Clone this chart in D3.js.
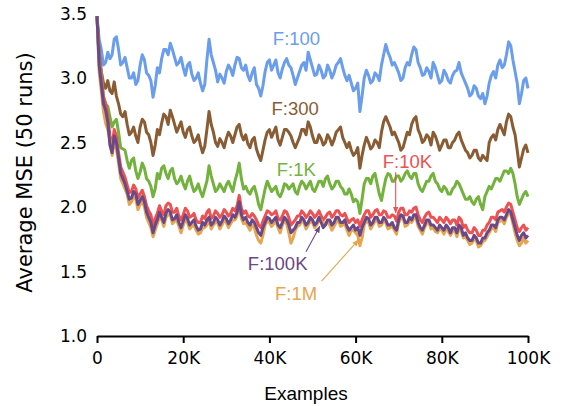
<!DOCTYPE html>
<html><head><meta charset="utf-8">
<script src="https://cdn.jsdelivr.net/npm/d3@7"></script>
<style>body{margin:0;background:#fff;} svg{display:block;}</style>
</head><body>
<svg id="c" width="563" height="406"></svg>
<script>
// Values read every 1K examples, plus the in-between (half-step) readings
const xTicks = [0, 20000, 40000, 60000, 80000, 100000];
const xTickLabels = ["0", "20K", "40K", "60K", "80K", "100K"];
const yTicks = [1.0, 1.5, 2.0, 2.5, 3.0, 3.5];

const f100 = [3.48,3.22,3.12,3.15,3.30,3.22,3.12,3.08,3.00,2.95,
  3.10,3.14,3.02,2.85,3.08,3.15,3.22,3.27,3.16,3.12,
  3.08,3.10,3.03,3.00,2.96,2.95,3.30,3.12,2.97,3.00,
  3.05,3.07,3.10,3.15,3.06,3.02,3.04,2.95,2.86,3.05,
  3.14,3.10,3.04,3.07,3.15,3.08,2.95,3.05,3.12,3.20,
  3.08,3.03,3.06,3.02,3.06,3.04,3.12,3.08,2.98,2.96,
  2.92,2.74,3.00,3.02,2.98,3.02,3.10,3.26,3.16,3.12,
  3.04,3.00,3.12,3.18,3.22,3.08,3.03,3.05,3.12,3.02,
  2.98,3.03,2.96,3.05,3.12,3.00,2.92,2.88,2.92,2.84,
  2.80,2.96,3.05,3.10,3.08,3.18,3.25,3.05,2.80,2.98,
  2.92];
const f100Mid = [3.30,3.10,3.20,3.18,3.32,3.10,3.16,3.00,3.04,2.98,
  3.18,3.04,2.98,2.94,3.04,3.22,3.18,3.22,3.10,3.16,
  3.02,3.12,2.98,3.04,2.90,3.14,3.18,3.06,3.03,2.96,
  3.10,3.02,3.16,3.08,3.10,2.98,3.08,2.92,2.94,3.12,
  3.06,3.14,3.00,3.12,3.10,3.02,3.00,3.10,3.06,3.14,
  3.02,3.10,3.00,3.10,3.00,3.10,3.15,3.02,3.02,2.90,
  2.96,2.86,3.06,2.96,3.04,2.98,3.18,3.20,3.10,3.08,
  2.98,3.08,3.10,3.24,3.12,3.02,3.08,3.00,3.08,2.96,
  3.06,2.98,3.02,3.06,3.04,2.96,2.86,2.94,2.86,2.88,
  2.86,3.02,3.00,3.14,3.10,3.28,3.14,2.96,2.88,3.00];

const f300 = [3.48,3.05,2.92,2.90,2.97,2.80,2.70,2.64,2.58,2.55,
  2.62,2.66,2.56,2.40,2.60,2.65,2.70,2.75,2.64,2.62,
  2.58,2.60,2.55,2.52,2.48,2.47,2.74,2.58,2.47,2.50,
  2.53,2.55,2.56,2.64,2.52,2.49,2.52,2.45,2.36,2.52,
  2.60,2.58,2.52,2.54,2.60,2.55,2.46,2.54,2.60,2.66,
  2.55,2.50,2.53,2.50,2.53,2.52,2.60,2.54,2.46,2.44,
  2.42,2.30,2.48,2.50,2.47,2.50,2.58,2.70,2.62,2.58,
  2.50,2.46,2.58,2.64,2.70,2.56,2.52,2.54,2.58,2.50,
  2.48,2.52,2.46,2.52,2.58,2.48,2.42,2.40,2.44,2.36,
  2.38,2.50,2.56,2.60,2.60,2.66,2.70,2.56,2.31,2.45,
  2.42];
const f300Mid = [3.20,2.96,2.98,2.88,2.86,2.72,2.74,2.56,2.62,2.50,
  2.68,2.58,2.50,2.48,2.56,2.72,2.64,2.70,2.58,2.66,
  2.54,2.62,2.50,2.56,2.42,2.60,2.64,2.50,2.53,2.46,
  2.58,2.50,2.62,2.56,2.56,2.46,2.54,2.40,2.44,2.58,
  2.54,2.62,2.48,2.60,2.58,2.50,2.50,2.60,2.56,2.62,
  2.50,2.56,2.48,2.56,2.48,2.58,2.62,2.50,2.50,2.40,
  2.46,2.40,2.54,2.45,2.52,2.46,2.66,2.66,2.56,2.54,
  2.44,2.52,2.56,2.68,2.60,2.50,2.56,2.48,2.55,2.44,
  2.52,2.46,2.50,2.56,2.52,2.44,2.38,2.44,2.38,2.40,
  2.36,2.54,2.52,2.64,2.56,2.72,2.62,2.44,2.38,2.48];

const f1k = [3.48,3.05,2.80,2.70,2.66,2.58,2.45,2.36,2.36,2.28,
  2.27,2.30,2.20,2.08,2.26,2.30,2.26,2.28,2.22,2.20,
  2.18,2.20,2.17,2.14,2.12,2.14,2.32,2.18,2.14,2.15,
  2.17,2.16,2.20,2.34,2.14,2.12,2.14,2.10,1.98,2.14,
  2.16,2.14,2.10,2.12,2.17,2.16,2.12,2.16,2.18,2.17,
  2.14,2.16,2.20,2.22,2.18,2.16,2.20,2.14,2.10,2.10,
  2.06,1.95,2.18,2.22,2.24,2.18,2.05,2.22,2.25,2.20,
  2.24,2.22,2.28,2.22,2.26,2.14,2.16,2.20,2.26,2.18,
  2.12,2.14,2.10,2.16,2.18,2.10,2.06,2.04,2.06,2.02,
  2.08,2.16,2.18,2.22,2.24,2.28,2.30,2.18,2.02,2.10,
  2.08];
const f1kMid = [3.15,2.86,2.78,2.62,2.68,2.46,2.44,2.30,2.38,2.22,
  2.34,2.22,2.16,2.14,2.22,2.32,2.22,2.30,2.18,2.24,
  2.14,2.24,2.12,2.18,2.08,2.20,2.24,2.12,2.18,2.12,
  2.20,2.12,2.26,2.22,2.16,2.10,2.16,2.02,2.06,2.20,
  2.12,2.16,2.08,2.18,2.14,2.18,2.10,2.20,2.14,2.20,
  2.12,2.20,2.16,2.24,2.14,2.20,2.16,2.10,2.14,2.04,
  2.04,2.06,2.22,2.18,2.26,2.10,2.14,2.26,2.20,2.24,
  2.20,2.26,2.24,2.26,2.18,2.12,2.20,2.24,2.20,2.14,
  2.16,2.10,2.14,2.20,2.14,2.06,2.08,2.02,2.08,1.98,
  2.12,2.14,2.22,2.20,2.28,2.26,2.26,2.08,2.06,2.12];

const f10k = [3.48,3.00,2.80,2.55,2.60,2.42,2.27,2.17,2.12,2.14,
  2.10,2.08,1.97,1.86,1.95,1.97,2.01,2.02,1.96,1.93,
  1.94,1.97,1.93,1.90,1.88,1.91,1.98,1.93,1.95,1.94,
  1.96,1.95,1.97,2.09,1.95,1.93,1.95,1.90,1.84,1.93,
  1.96,1.95,1.91,1.93,1.96,1.86,1.90,1.93,1.95,1.94,
  1.95,1.94,1.93,1.92,1.96,1.94,1.97,1.93,1.91,1.90,
  1.88,1.85,1.94,1.97,1.94,1.98,1.94,1.96,1.92,1.93,
  1.96,1.99,1.94,1.96,2.00,1.90,1.92,1.96,1.92,1.88,
  1.90,1.92,1.87,1.90,1.92,1.84,1.82,1.80,1.82,1.78,
  1.82,1.88,1.92,1.96,1.98,2.00,2.02,1.90,1.81,1.86,
  1.84];
const f10kMid = [3.15,2.85,2.71,2.48,2.55,2.31,2.23,2.11,2.17,2.07,
  2.13,2.01,1.94,1.91,2.01,1.94,2.03,1.96,1.99,1.90,
  1.99,1.92,1.95,1.88,1.93,1.96,1.91,1.97,1.92,1.98,
  1.93,1.99,2.01,1.99,1.97,1.92,1.93,1.86,1.89,1.97,
  1.94,1.97,1.90,1.97,1.92,1.88,1.93,1.97,1.92,1.97,
  1.92,1.97,1.90,1.95,1.92,1.97,1.94,1.95,1.88,1.91,
  1.90,1.90,1.97,1.92,1.97,1.94,1.97,1.92,1.94,1.89,
  1.99,1.94,1.97,1.99,1.94,1.88,1.95,1.92,1.90,1.92,
  1.88,1.90,1.90,1.86,1.90,1.86,1.80,1.84,1.78,1.82,
  1.86,1.92,1.90,1.97,1.96,2.03,1.96,1.84,1.84,1.82];

const f1m = [3.48,2.90,2.65,2.52,2.50,2.34,2.18,2.10,2.04,2.06,
  2.02,2.00,1.88,1.77,1.87,1.90,1.92,1.94,1.89,1.85,
  1.86,1.88,1.85,1.82,1.80,1.84,1.90,1.86,1.88,1.86,
  1.88,1.87,1.90,2.02,1.87,1.85,1.86,1.78,1.72,1.86,
  1.88,1.87,1.84,1.86,1.87,1.72,1.82,1.86,1.88,1.86,
  1.88,1.86,1.90,1.88,1.86,1.85,1.90,1.86,1.82,1.82,
  1.80,1.70,1.86,1.88,1.86,1.90,1.86,1.88,1.84,1.82,
  1.88,1.92,1.86,1.88,1.92,1.82,1.84,1.88,1.84,1.80,
  1.82,1.84,1.78,1.82,1.84,1.76,1.74,1.72,1.74,1.70,
  1.74,1.80,1.84,1.88,1.90,1.92,1.94,1.80,1.70,1.76,
  1.74];
const f1mMid = [3.05,2.74,2.60,2.40,2.45,2.22,2.14,2.02,2.08,1.98,
  2.04,1.92,1.84,1.82,1.92,1.85,1.94,1.87,1.90,1.80,
  1.90,1.83,1.86,1.79,1.84,1.86,1.83,1.88,1.83,1.90,
  1.84,1.90,1.93,1.91,1.88,1.82,1.84,1.74,1.78,1.89,
  1.85,1.89,1.80,1.89,1.80,1.76,1.85,1.89,1.83,1.89,
  1.84,1.90,1.86,1.88,1.82,1.88,1.85,1.87,1.78,1.82,
  1.78,1.76,1.89,1.83,1.89,1.85,1.89,1.83,1.85,1.79,
  1.91,1.85,1.89,1.91,1.85,1.79,1.87,1.83,1.81,1.83,
  1.79,1.81,1.81,1.77,1.81,1.77,1.71,1.75,1.69,1.73,
  1.77,1.83,1.81,1.89,1.87,1.95,1.87,1.74,1.72,1.72];

const f100k = [3.48,2.95,2.75,2.48,2.55,2.38,2.22,2.12,2.07,2.10,
  2.05,2.04,1.92,1.80,1.90,1.92,1.95,1.96,1.91,1.88,
  1.89,1.91,1.88,1.85,1.83,1.86,1.92,1.88,1.90,1.89,
  1.91,1.90,1.92,2.04,1.90,1.88,1.90,1.84,1.78,1.88,
  1.91,1.90,1.86,1.88,1.90,1.80,1.84,1.88,1.90,1.88,
  1.90,1.88,1.88,1.86,1.90,1.88,1.92,1.88,1.85,1.84,
  1.82,1.78,1.88,1.91,1.88,1.92,1.88,1.90,1.86,1.84,
  1.90,1.93,1.88,1.90,1.94,1.84,1.86,1.90,1.86,1.82,
  1.84,1.86,1.80,1.84,1.86,1.78,1.76,1.74,1.76,1.72,
  1.76,1.82,1.86,1.90,1.92,1.94,1.96,1.84,1.74,1.80,
  1.78];
const f100kMid = [3.10,2.80,2.66,2.42,2.50,2.26,2.18,2.06,2.12,2.02,
  2.08,1.96,1.88,1.86,1.96,1.88,1.98,1.90,1.94,1.84,
  1.94,1.86,1.90,1.82,1.88,1.90,1.86,1.92,1.86,1.93,
  1.87,1.94,1.96,1.94,1.92,1.86,1.88,1.80,1.84,1.92,
  1.88,1.92,1.84,1.92,1.86,1.82,1.88,1.92,1.86,1.92,
  1.86,1.92,1.84,1.90,1.86,1.92,1.88,1.90,1.82,1.86,
  1.84,1.84,1.92,1.86,1.92,1.88,1.92,1.86,1.88,1.82,
  1.94,1.88,1.92,1.94,1.88,1.82,1.90,1.86,1.84,1.86,
  1.82,1.84,1.84,1.80,1.84,1.80,1.74,1.78,1.72,1.76,
  1.80,1.86,1.84,1.92,1.90,1.98,1.90,1.78,1.78,1.76];

const seriesNames = ["F:100", "F:300", "F:1K", "F:10K", "F:1M", "F:100K"];
const seriesMain = [f100, f300, f1k, f10k, f1m, f100k];
const seriesMid = [f100Mid, f300Mid, f1kMid, f10kMid, f1mMid, f100kMid];
const seriesColors = ["#6a9dec", "#8a5c33", "#73b23c", "#ee5151", "#e6a550", "#6b4887"];

// label anchors in data space [examples, value]
const labelNames = ["F:100", "F:300", "F:1K", "F:10K", "F:100K", "F:1M"];
const labelAt = [[40800, 3.256], [40500, 2.713], [41700, 2.240], [66300, 2.302], [35000, 1.512], [41300, 1.279]];
const labelColors = ["#6a9dec", "#8a5c33", "#73b23c", "#ee5151", "#6b4887", "#e6a550"];
// arrows: [tail, head] in data space
const arrowColors = ["#ee5151", "#6b4887", "#e6a550"];
const arrows = [
  [[69300, 2.27], [69300, 1.955]],
  [[48500, 1.653], [51700, 1.85]],
  [[52100, 1.426], [60700, 1.745]]
];

const svg = d3.select("#c");
const x = d3.scaleLinear().domain([0, 100000]).range([97, 528]);
const y = d3.scaleLinear().domain([1.0, 3.5]).range([336, 13.5]);

// build [examples, value] points by interleaving the 1K readings and half-step readings
function buildPoints(main, mid) {
  const pts = [];
  main.forEach((v, i) => {
    pts.push([i * 1000, v]);
    if (i < mid.length) pts.push([i * 1000 + 500, mid[i]]);
  });
  return pts;
}

const line = d3.line().x(d => x(d[0])).y(d => y(d[1]));

seriesMain.forEach((vals, k) => {
  svg.append("path").datum(buildPoints(vals, seriesMid[k]))
    .attr("d", line)
    .attr("fill", "none")
    .attr("stroke", seriesColors[k])
    .attr("stroke-width", 3)
    .attr("stroke-linejoin", "round");
});

// x axis
const xAxis = d3.axisBottom(x).tickValues(xTicks)
  .tickFormat((d, i) => xTickLabels[i]).tickSize(7).tickSizeOuter(0);
const gx = svg.append("g").attr("transform", "translate(0,336)").call(xAxis);
gx.select(".domain").attr("stroke", "#000").attr("stroke-width", 2);
gx.selectAll(".tick line").attr("stroke", "#000").attr("stroke-width", 2);
gx.selectAll(".tick text").attr("y", 28).attr("dy", 0)
  .attr("font-family", "DejaVu Sans").attr("font-size", 17).attr("fill", "#000");

// y tick labels (no axis line)
svg.append("g").selectAll("text").data(yTicks).join("text")
  .attr("x", 87).attr("y", d => y(d)).attr("dy", "0.36em")
  .attr("text-anchor", "end")
  .attr("font-family", "DejaVu Sans").attr("font-size", 17).attr("fill", "#000")
  .text(d => d.toFixed(1));

// axis titles
svg.append("text").attr("x", 306).attr("y", 400).attr("text-anchor", "middle")
  .attr("font-family", "Liberation Sans").attr("font-size", 19).attr("fill", "#000")
  .text("Examples");
svg.append("text").attr("transform", "translate(32,172.5) rotate(-90)")
  .attr("text-anchor", "middle")
  .attr("font-family", "DejaVu Sans").attr("font-size", 21).attr("fill", "#000")
  .text("Average MSE (50 runs)");

// arrows
const defs = svg.append("defs");
arrowColors.forEach((c, i) => {
  defs.append("marker").attr("id", "ah" + i)
    .attr("viewBox", "0 0 10 10").attr("refX", 9).attr("refY", 5)
    .attr("markerWidth", 7).attr("markerHeight", 7).attr("markerUnits", "userSpaceOnUse")
    .attr("orient", "auto")
    .append("path").attr("d", "M0,1 L10,5 L0,9 Z").attr("fill", c);
});
arrows.forEach((a, i) => {
  svg.append("line")
    .attr("x1", x(a[0][0])).attr("y1", y(a[0][1]))
    .attr("x2", x(a[1][0])).attr("y2", y(a[1][1]))
    .attr("stroke", arrowColors[i]).attr("stroke-width", 1.1)
    .attr("marker-end", "url(#ah" + i + ")");
});

// labels
labelNames.forEach((t, i) => {
  svg.append("text").attr("x", x(labelAt[i][0])).attr("y", y(labelAt[i][1]))
    .attr("font-family", "Liberation Sans").attr("font-size", 18.5)
    .attr("fill", labelColors[i]).text(t);
});
</script>
</body></html>
